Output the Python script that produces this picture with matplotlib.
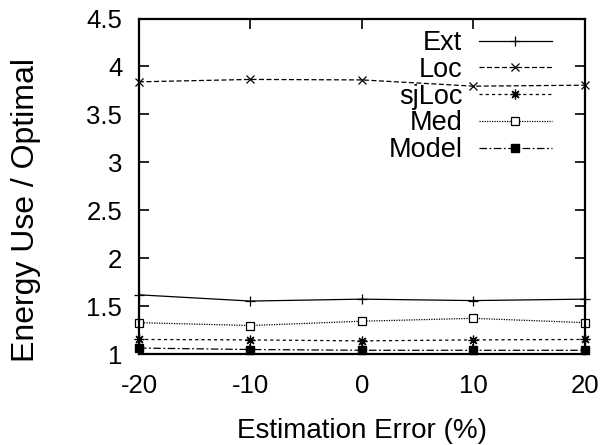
import matplotlib
matplotlib.use('Agg')
import matplotlib.pyplot as plt

plt.rcParams['font.family'] = ['Liberation Sans', 'DejaVu Sans']
plt.rcParams['axes.unicode_minus'] = False

errors = [-20, -10, 0, 10, 20]
ext = [1.62, 1.555, 1.575, 1.56, 1.575]
loc = [3.84, 3.865, 3.86, 3.795, 3.805]
sjloc = [1.155, 1.15, 1.14, 1.15, 1.155]
med = [1.33, 1.30, 1.345, 1.375, 1.33]
model = [1.065, 1.05, 1.042, 1.042, 1.042]

fig = plt.figure(figsize=(6.04, 4.45), dpi=100)
ax = fig.add_axes([0.2301, 0.2038, 0.7384, 0.7546])

lw = 0.9
ax.plot(errors, ext, color='black', lw=lw, ls='-', marker='+', ms=6.5, mew=lw, label='Ext', clip_on=False)
ax.plot(errors, loc, color='black', lw=lw, ls=(0, (4, 2)), marker='x', ms=5.5, mew=lw, label='Loc', clip_on=False)
ax.plot(errors, sjloc, color='black', lw=lw, ls=(0, (2.5, 2.5)), marker=(8, 2, 0), ms=7, mew=lw, label='sjLoc', clip_on=False)
ax.plot(errors, med, color='black', lw=lw, ls=(0, (1, 1)), marker='s', ms=5.5, mfc='white', mew=lw, label='Med', clip_on=False)
ax.plot(errors, model, color='black', lw=lw, ls=(0, (6, 2, 1.5, 2)), marker='s', ms=5.5, mfc='black', label='Model', clip_on=False)

ax.set_xlim(-20, 20)
ax.set_ylim(1, 4.5)
ax.set_xticks(errors)
ax.set_yticks([1, 1.5, 2, 2.5, 3, 3.5, 4, 4.5])
ax.set_yticklabels(['1', '1.5', '2', '2.5', '3', '3.5', '4', '4.5'])
ax.tick_params(direction='in', length=7, width=1.2, top=True, right=True, labelsize=18.5)
ax.tick_params(axis='x', pad=14)
ax.tick_params(axis='y', pad=12)
for s in ax.spines.values():
    s.set_linewidth(1.6)

ax.set_xlabel('Estimation Error (%)', fontsize=20, labelpad=14.5)
ax.set_ylabel('Energy Use / Optimal', fontsize=23)
ax.yaxis.set_label_coords(-0.2197, 0.429)

ax.legend(loc='upper right', bbox_to_anchor=(0.944, 0.99), frameon=False, markerfirst=False,
          fontsize=19.5, handlelength=2.7, handletextpad=0.6, labelspacing=0.03,
          borderaxespad=0.0, borderpad=0.3)

fig.savefig('out.png', dpi=100)
